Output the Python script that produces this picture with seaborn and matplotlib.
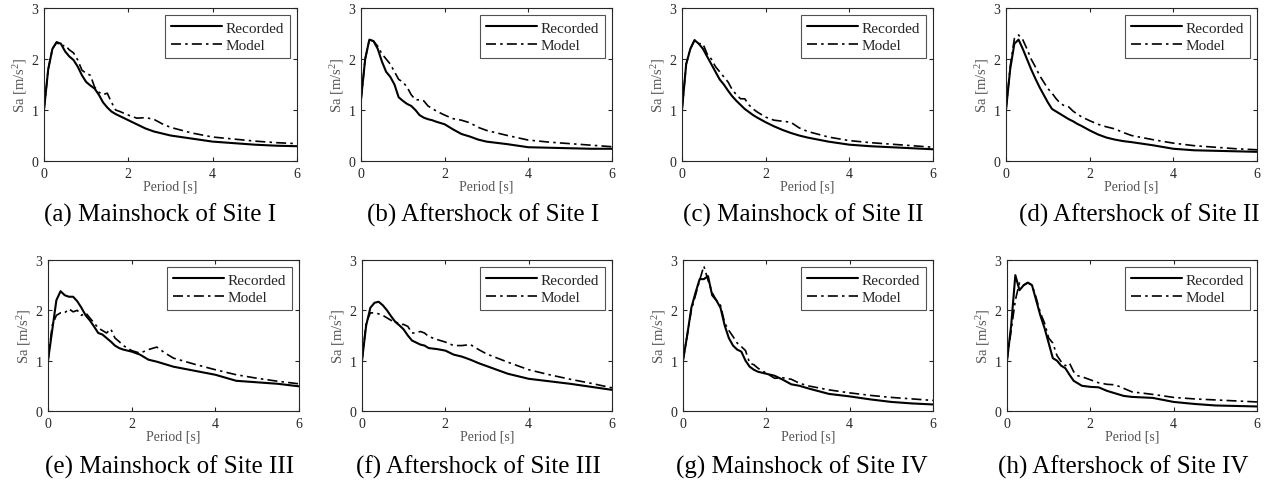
import matplotlib
matplotlib.use("Agg")
import matplotlib.pyplot as plt
import seaborn as sns
import pandas as pd

# ---------------- data ----------------
period = [0, 0.1, 0.2, 0.3, 0.4, 0.5, 0.6, 0.7, 0.8, 0.9, 1.0, 1.1, 1.2, 1.3, 1.4, 1.5,
          1.6, 1.7, 1.8, 2.0, 2.2, 2.4, 2.6, 2.8, 3.0, 3.5, 4.0, 4.5, 5.0, 5.5, 6.0]

rec_a = [1.0, 1.8, 2.2, 2.33, 2.3, 2.15, 2.05, 1.98, 1.85, 1.68, 1.55, 1.48, 1.42, 1.3, 1.15, 1.05,
         0.97, 0.92, 0.88, 0.80, 0.72, 0.64, 0.58, 0.54, 0.50, 0.44, 0.38, 0.35, 0.32, 0.30, 0.29]
mod_a = [1.0, 1.8, 2.2, 2.33, 2.25, 2.27, 2.18, 2.12, 1.98, 1.78, 1.72, 1.68, 1.45, 1.35, 1.3, 1.33,
         1.15, 1.0, 0.97, 0.9, 0.84, 0.85, 0.82, 0.73, 0.66, 0.55, 0.47, 0.43, 0.39, 0.36, 0.34]

rec_b = [1.2, 2.0, 2.38, 2.35, 2.2, 1.95, 1.75, 1.65, 1.5, 1.25, 1.18, 1.12, 1.08, 1.0, 0.9, 0.85,
         0.82, 0.8, 0.77, 0.72, 0.62, 0.53, 0.48, 0.42, 0.38, 0.33, 0.27, 0.26, 0.25, 0.24, 0.24]
mod_b = [1.2, 2.0, 2.38, 2.35, 2.25, 2.1, 2.0, 1.9, 1.75, 1.6, 1.55, 1.45, 1.3, 1.2, 1.2, 1.18,
         1.08, 1.03, 0.98, 0.9, 0.83, 0.8, 0.75, 0.66, 0.6, 0.5, 0.41, 0.37, 0.34, 0.31, 0.28]

rec_c = [1.0, 1.9, 2.2, 2.37, 2.3, 2.2, 2.05, 1.9, 1.75, 1.6, 1.5, 1.38, 1.27, 1.18, 1.1, 1.02,
         0.96, 0.9, 0.85, 0.76, 0.68, 0.61, 0.55, 0.5, 0.46, 0.38, 0.32, 0.29, 0.27, 0.25, 0.23]
mod_c = [1.0, 1.9, 2.2, 2.37, 2.3, 2.3, 2.1, 2.0, 1.85, 1.75, 1.65, 1.55, 1.4, 1.3, 1.22, 1.22,
         1.1, 1.02, 0.96, 0.86, 0.8, 0.78, 0.76, 0.65, 0.58, 0.47, 0.4, 0.36, 0.33, 0.3, 0.27]

rec_d = [1.0, 1.8, 2.3, 2.38, 2.2, 2.0, 1.8, 1.62, 1.45, 1.3, 1.15, 1.02, 0.97, 0.92, 0.87, 0.82,
         0.78, 0.73, 0.69, 0.6, 0.52, 0.46, 0.42, 0.39, 0.37, 0.31, 0.24, 0.21, 0.2, 0.19, 0.18]
mod_d = [1.0, 1.85, 2.4, 2.47, 2.38, 2.2, 2.0, 1.85, 1.68, 1.55, 1.42, 1.33, 1.22, 1.13, 1.08, 1.06,
         0.98, 0.92, 0.87, 0.79, 0.72, 0.67, 0.63, 0.56, 0.5, 0.42, 0.35, 0.3, 0.27, 0.24, 0.22]

rec_e = [1.0, 1.6, 2.2, 2.38, 2.3, 2.27, 2.27, 2.18, 2.05, 1.9, 1.8, 1.68, 1.55, 1.52, 1.45, 1.38,
         1.3, 1.25, 1.22, 1.18, 1.12, 1.02, 0.98, 0.93, 0.88, 0.8, 0.72, 0.6, 0.57, 0.54, 0.49]
mod_e = [1.0, 1.7, 1.9, 1.95, 1.95, 2.03, 1.97, 2.0, 1.9, 1.95, 1.85, 1.75, 1.65, 1.6, 1.55, 1.63,
         1.45, 1.38, 1.3, 1.2, 1.15, 1.22, 1.27, 1.15, 1.05, 0.93, 0.82, 0.72, 0.65, 0.59, 0.54]

rec_f = [1.0, 1.7, 2.05, 2.15, 2.17, 2.1, 2.0, 1.88, 1.77, 1.7, 1.62, 1.5, 1.4, 1.36, 1.32, 1.3,
         1.25, 1.24, 1.23, 1.2, 1.12, 1.08, 1.02, 0.95, 0.89, 0.74, 0.64, 0.59, 0.54, 0.48, 0.42]
mod_f = [1.0, 1.75, 1.95, 1.95, 1.93, 1.9, 1.85, 1.8, 1.78, 1.72, 1.72, 1.68, 1.55, 1.55, 1.58, 1.55,
         1.48, 1.45, 1.42, 1.37, 1.3, 1.3, 1.32, 1.22, 1.13, 0.97, 0.82, 0.72, 0.63, 0.55, 0.46]

rec_g = [1.0, 1.5, 2.05, 2.35, 2.62, 2.62, 2.68, 2.3, 2.2, 2.05, 1.7, 1.45, 1.3, 1.22, 1.18, 1.0,
         0.88, 0.82, 0.78, 0.74, 0.7, 0.62, 0.53, 0.5, 0.45, 0.34, 0.29, 0.23, 0.18, 0.15, 0.13]
mod_g = [1.0, 1.5, 2.0, 2.3, 2.6, 2.88, 2.6, 2.35, 2.2, 2.1, 1.75, 1.6, 1.48, 1.35, 1.28, 1.2,
         0.95, 0.92, 0.85, 0.75, 0.65, 0.66, 0.63, 0.55, 0.5, 0.42, 0.36, 0.31, 0.27, 0.24, 0.21]

rec_h = [1.0, 1.7, 2.7, 2.4, 2.5, 2.55, 2.5, 2.2, 1.9, 1.65, 1.35, 1.05, 1.0, 0.9, 0.85, 0.72,
         0.6, 0.55, 0.5, 0.48, 0.47, 0.4, 0.35, 0.3, 0.28, 0.26, 0.18, 0.14, 0.11, 0.1, 0.09]
mod_h = [1.0, 1.6, 2.2, 2.55, 2.5, 2.55, 2.5, 2.25, 1.95, 1.75, 1.45, 1.35, 1.1, 0.98, 0.9, 0.95,
         0.78, 0.7, 0.68, 0.62, 0.56, 0.53, 0.52, 0.45, 0.38, 0.33, 0.27, 0.24, 0.22, 0.2, 0.18]

captions = ["(a) Mainshock of Site I", "(b) Aftershock of Site I",
            "(c) Mainshock of Site II", "(d) Aftershock of Site II",
            "(e) Mainshock of Site III", "(f) Aftershock of Site III",
            "(g) Mainshock of Site IV", "(h) Aftershock of Site IV"]
recorded = [rec_a, rec_b, rec_c, rec_d, rec_e, rec_f, rec_g, rec_h]
model = [mod_a, mod_b, mod_c, mod_d, mod_e, mod_f, mod_g, mod_h]
xticks = [0, 2, 4, 6]
yticks = [0, 1, 2, 3]

# ---------------- style ----------------
sns.set_style("ticks")
plt.rcParams['font.family'] = ['Liberation Serif', 'DejaVu Serif']
plt.rcParams['mathtext.fontset'] = 'custom'
plt.rcParams['mathtext.rm'] = 'Liberation Serif'
plt.rcParams['mathtext.it'] = 'Liberation Serif:italic'

W, H = 1269, 481
fig = plt.figure(figsize=(W / 100, H / 100), dpi=100)

# axes boxes in pixels: (left, top, right, bottom)
boxes = [(44, 9, 297, 162), (361, 9, 612, 162), (682, 9, 933, 162), (1006, 9, 1257, 162),
         (48, 261, 299, 412), (362, 261, 612, 412), (683, 261, 933, 412), (1007, 261, 1257, 412)]
cap_x = [160, 483, 803, 1139, 170, 478, 802, 1123]
cap_y = [215, 215, 215, 215, 467, 467, 467, 467]

for i in range(8):
    l, t, r, b = boxes[i]
    ax = fig.add_axes([l / W, 1 - b / H, (r - l) / W, (b - t) / H])
    df = pd.DataFrame({"Period": period, "Recorded": recorded[i], "Model": model[i]})
    sns.lineplot(data=df, x="Period", y="Recorded", ax=ax, color="black", lw=1.5,
                 label="Recorded")
    sns.lineplot(data=df, x="Period", y="Model", ax=ax, color="black", lw=1.2,
                 linestyle=(0, (6, 2.5, 1.5, 2.5)), label="Model")
    ax.set_xlim(0, 6)
    ax.set_ylim(0, 3)
    ax.set_xticks(xticks)
    ax.set_yticks(yticks)
    ax.tick_params(direction="in", top=True, right=True, length=3, width=0.8,
                   labelsize=10, colors="#262626", pad=4)
    for s in ax.spines.values():
        s.set_color("#262626")
        s.set_linewidth(0.8)
    ax.set_xlabel("Period [s]", fontsize=10, color="#555555", labelpad=0)
    ax.set_ylabel("Sa [m/s$^2$]", fontsize=10.5, color="#555555", labelpad=2)
    leg = ax.legend(loc="upper right", fontsize=11, frameon=True, fancybox=False,
                    edgecolor="#262626", handlelength=3.3, handletextpad=0.25,
                    borderpad=0.4, labelspacing=0.25, borderaxespad=0.45)
    leg.get_frame().set_linewidth(0.8)
    fig.text(cap_x[i] / W, 1 - cap_y[i] / H, captions[i], ha="center", va="center",
             fontsize=18, color="black")

fig.savefig("out.png", dpi=100)
